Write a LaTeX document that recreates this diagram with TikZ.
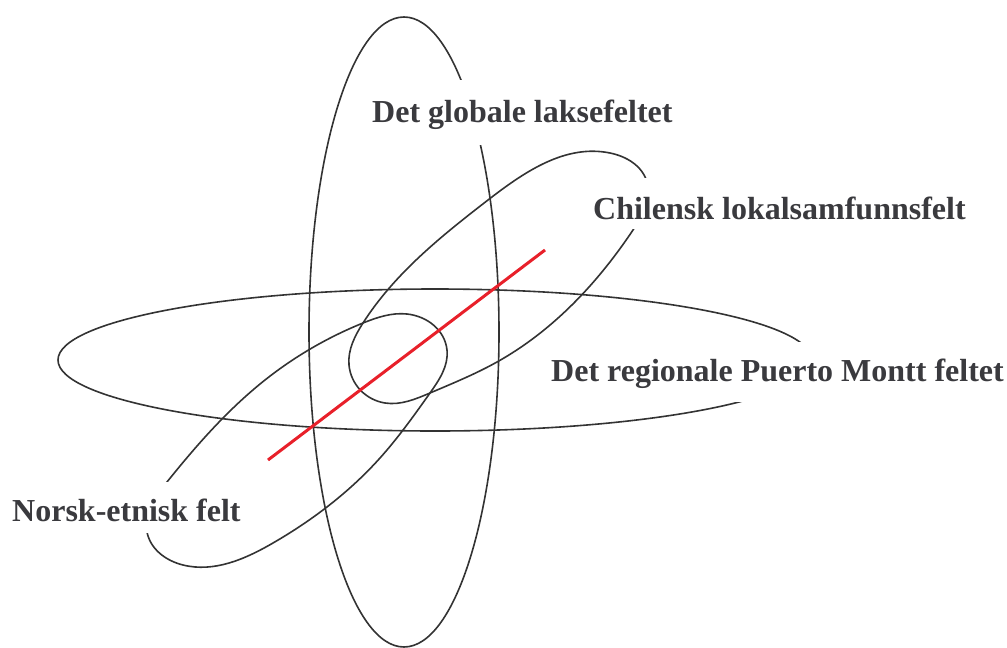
\documentclass[tikz,border=0pt]{standalone}
\usepackage{fontspec}
\setmainfont{Liberation Serif}
\usetikzlibrary{hobby}
\definecolor{ln}{HTML}{333333}
\definecolor{rd}{HTML}{E8202A}
\definecolor{tx}{HTML}{3A3A3E}
\begin{document}
\begin{tikzpicture}[x=1pt,y=1pt,
  ring/.style={draw=ln, line width=1.6pt},
  redline/.style={draw=rd, line width=3pt},
  lab/.style={fill=white, inner xsep=3pt, inner ysep=0pt, anchor=base west, text=tx,
    font=\fontsize{32}{38}\selectfont\bfseries}]
\useasboundingbox (0,0) rectangle (1007,-648);
% vertical field
\draw[ring] (404,-332) ellipse [x radius=95, y radius=315];
% horizontal field
\draw[ring] (435,-360) ellipse [x radius=377, y radius=71];
% upper-right lobe
\draw[ring, closed hobby] plot coordinates {
  (349,-365) (363,-323) (488,-200) (610,-153) (647,-182) (633,-230)
  (497,-362) (430,-393) (385,-403)};
% lower-left lobe
\draw[ring, closed hobby] plot coordinates {
  (363,-323) (407,-314) (447,-350) (430,-393) (380,-458) (273,-543)
  (183,-565) (147,-532) (167,-482) (265,-380)};
% red line
\coordinate (r1) at (268,-460);
\coordinate (r2) at (545,-250);
\draw[redline] (r1) -- (r2);
% labels
\node[lab, text height=42pt, text depth=23pt] (glob) at (369,-122) {Det globale laksefeltet};
\node[lab, text height=41pt, text depth=10pt] (chil) at (590,-219) {Chilensk lokalsamfunnsfelt};
\node[lab, text height=39pt, text depth=21pt] (reg) at (548,-381) {Det regionale Puerto Montt feltet};
\node[lab, text height=39pt, text depth=12pt] (nor) at (9,-521) {Norsk-etnisk felt};
\end{tikzpicture}
\end{document}
